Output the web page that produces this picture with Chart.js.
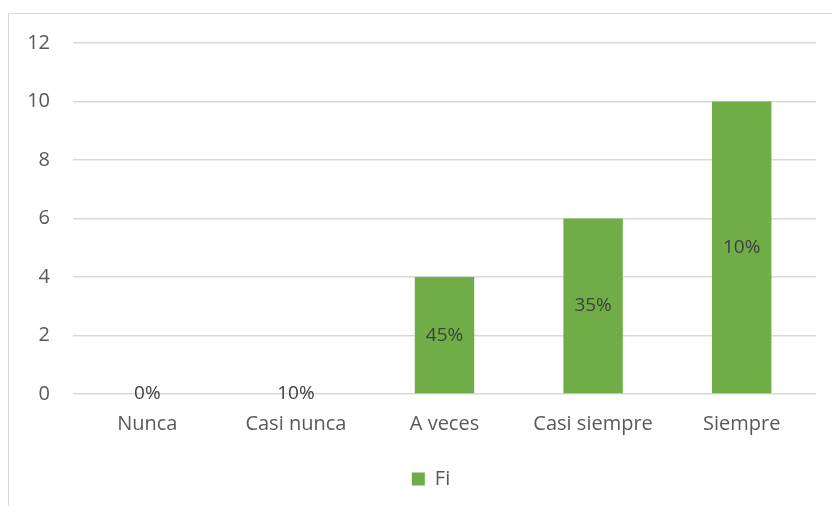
<!DOCTYPE html>
<html>
<head>
<meta charset="utf-8">
<script src="https://cdn.jsdelivr.net/npm/chart.js@4"></script>
<style>
  html, body { margin: 0; padding: 0; background: #fff; overflow: hidden; }
  #frame { position: absolute; left: 8px; top: 13px; width: 900px; height: 600px; border: 1.5px solid #d9d9d9; }
  #wrap { position: absolute; left: 0; top: 0; width: 832px; height: 506px; }
</style>
</head>
<body>
<div id="frame"></div>
<div id="wrap"><canvas id="chart"></canvas></div>
<script>
  const categories = ["Nunca", "Casi nunca", "A veces", "Casi siempre", "Siempre"];
  const fiValues = [0, 0, 4, 6, 10];
  const pctLabels = ["0%", "10%", "45%", "35%", "10%"];
  const yTicks = [0, 2, 4, 6, 8, 10, 12];

  const textColor = "#595959";
  const fontFamily = "'Open Sans', 'Liberation Sans', sans-serif";

  // percentage labels drawn in the middle of each bar
  const barLabels = {
    id: "barLabels",
    afterDatasetsDraw(chart) {
      const ctx = chart.ctx;
      const meta = chart.getDatasetMeta(0);
      ctx.save();
      ctx.font = "19px " + fontFamily;
      ctx.fillStyle = "#404040";
      ctx.textAlign = "center";
      ctx.textBaseline = "middle";
      meta.data.forEach((bar, i) => {
        const mid = (bar.y + bar.base) / 2;
        ctx.fillText(pctLabels[i], bar.x, mid);
      });
      ctx.restore();
    }
  };

  // legend sits a bit right of the canvas centre in the original
  const shiftLegend = {
    id: "shiftLegend",
    afterLayout(chart) {
      chart.legend.left += 23;
      chart.legend.right += 23;
    }
  };

  const ctx = document.getElementById("chart").getContext("2d");
  const chart = new Chart(ctx, {
    type: "bar",
    data: {
      labels: categories,
      datasets: [{
        label: "Fi",
        data: fiValues,
        backgroundColor: "#70ad47",
        borderWidth: 0,
        barPercentage: 0.4,
        categoryPercentage: 1.0
      }]
    },
    options: {
      responsive: true,
      maintainAspectRatio: false,
      animation: false,
      layout: { padding: { top: 43, right: 16, bottom: 7, left: 0 } },
      scales: {
        y: {
          min: 0,
          max: 12,
          afterBuildTicks: axis => { axis.ticks = yTicks.map(v => ({ value: v })); },
          afterFit: scale => { scale.width = 73; },
          grid: { color: "#d9d9d9", lineWidth: 1.5, drawTicks: false },
          border: { display: false },
          ticks: { color: textColor, padding: 23, font: { size: 20, family: fontFamily } }
        },
        x: {
          afterFit: scale => { scale.height += 9; },
          grid: { display: false },
          border: { display: false },
          ticks: { color: textColor, padding: 10, font: { size: 20, family: fontFamily } }
        }
      },
      plugins: {
        legend: {
          position: "bottom",
          labels: {
            color: textColor,
            boxWidth: 13,
            boxHeight: 13,
            padding: 14,
            font: { size: 20, family: fontFamily }
          }
        },
        tooltip: { enabled: false }
      }
    },
    plugins: [barLabels, shiftLegend]
  });
</script>
</body>
</html>
